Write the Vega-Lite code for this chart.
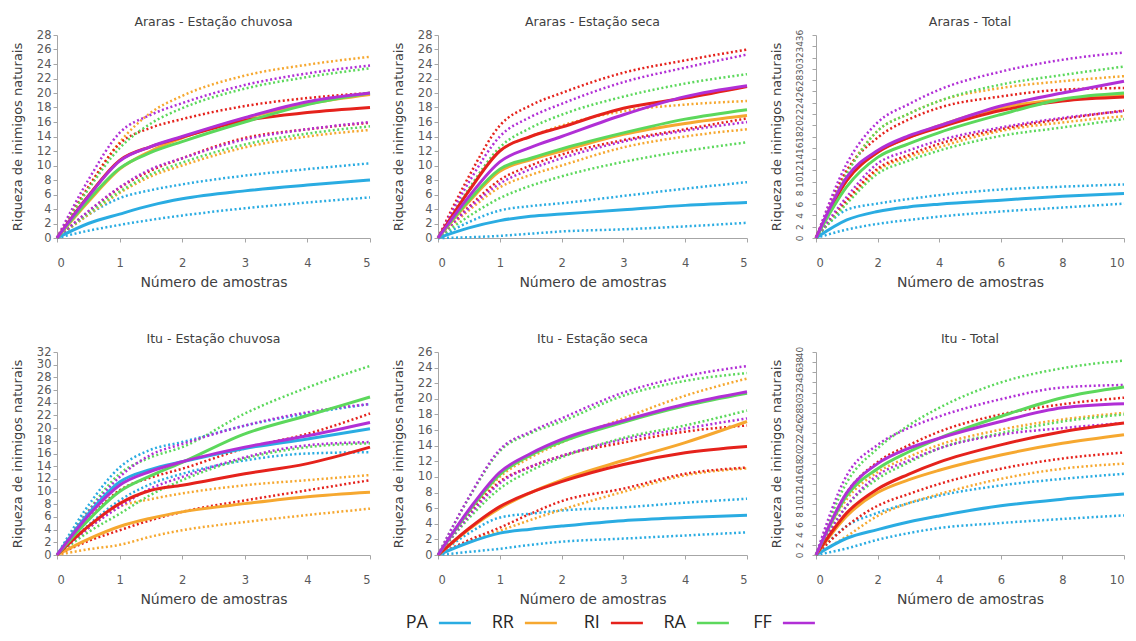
{
"$schema": "https://vega.github.io/schema/vega-lite/v6.json",
"padding": {"left": 11, "top": 15, "right": 0, "bottom": 0},
"background": "white",
"datasets": {
"leg": [{"g":"PA"},{"g":"RR"},{"g":"RI"},{"g":"RA"},{"g":"FF"}],
"a1": [
{"g":"PA","x":0,"m":0,"l":0,"h":0},{"g":"PA","x":0.5,"m":2.0,"l":1.0,"h":3.2},{"g":"PA","x":1,"m":3.3,"l":1.8,"h":5.5},{"g":"PA","x":1.5,"m":4.5,"l":2.5,"h":6.6},{"g":"PA","x":2,"m":5.4,"l":3.1,"h":7.4},{"g":"PA","x":3,"m":6.5,"l":4.1,"h":8.6},{"g":"PA","x":4,"m":7.3,"l":4.9,"h":9.5},{"g":"PA","x":5,"m":8.0,"l":5.6,"h":10.3},
{"g":"RR","x":0,"m":0,"l":0,"h":0},{"g":"RR","x":0.5,"m":5.0,"l":3.2,"h":7.0},{"g":"RR","x":1,"m":9.5,"l":6.2,"h":13.2},{"g":"RR","x":1.5,"m":12.0,"l":8.5,"h":17.3},{"g":"RR","x":2,"m":13.8,"l":10.0,"h":19.6},{"g":"RR","x":3,"m":16.5,"l":12.5,"h":22.4},{"g":"RR","x":4,"m":18.5,"l":14.0,"h":23.9},{"g":"RR","x":5,"m":19.8,"l":14.9,"h":25.0},
{"g":"RI","x":0,"m":0,"l":0,"h":0},{"g":"RI","x":0.5,"m":5.8,"l":3.6,"h":7.0},{"g":"RI","x":1,"m":10.7,"l":6.9,"h":13.0},{"g":"RI","x":1.5,"m":12.6,"l":9.3,"h":15.2},{"g":"RI","x":2,"m":13.9,"l":11.0,"h":16.4},{"g":"RI","x":3,"m":16.2,"l":13.8,"h":18.2},{"g":"RI","x":4,"m":17.3,"l":15.0,"h":19.3},{"g":"RI","x":5,"m":18.0,"l":15.9,"h":20.0},
{"g":"RA","x":0,"m":0,"l":0,"h":0},{"g":"RA","x":0.5,"m":5.2,"l":3.4,"h":6.7},{"g":"RA","x":1,"m":9.6,"l":6.4,"h":12.4},{"g":"RA","x":1.5,"m":11.8,"l":8.8,"h":15.8},{"g":"RA","x":2,"m":13.3,"l":10.4,"h":17.9},{"g":"RA","x":3,"m":16.0,"l":12.9,"h":20.6},{"g":"RA","x":4,"m":18.4,"l":14.4,"h":22.2},{"g":"RA","x":5,"m":20.0,"l":15.4,"h":23.4},
{"g":"FF","x":0,"m":0,"l":0,"h":0},{"g":"FF","x":0.5,"m":5.7,"l":3.7,"h":8.0},{"g":"FF","x":1,"m":10.6,"l":7.0,"h":14.5},{"g":"FF","x":1.5,"m":12.6,"l":9.5,"h":17.0},{"g":"FF","x":2,"m":14.0,"l":11.0,"h":18.6},{"g":"FF","x":3,"m":16.6,"l":13.6,"h":21.1},{"g":"FF","x":4,"m":18.8,"l":15.0,"h":22.7},{"g":"FF","x":5,"m":20.0,"l":16.0,"h":23.8}
],
"a2": [
{"g":"PA","x":0,"m":0,"l":0,"h":0},{"g":"PA","x":0.5,"m":1.4,"l":0.1,"h":2.2},{"g":"PA","x":1,"m":2.4,"l":0.3,"h":3.8},{"g":"PA","x":1.5,"m":3.0,"l":0.6,"h":4.4},{"g":"PA","x":2,"m":3.3,"l":0.9,"h":4.8},{"g":"PA","x":3,"m":3.9,"l":1.2,"h":5.8},{"g":"PA","x":4,"m":4.5,"l":1.6,"h":6.8},{"g":"PA","x":5,"m":4.9,"l":2.1,"h":7.7},
{"g":"RR","x":0,"m":0,"l":0,"h":0},{"g":"RR","x":0.5,"m":5.0,"l":3.8,"h":6.5},{"g":"RR","x":1,"m":9.2,"l":7.0,"h":12.0},{"g":"RR","x":1.5,"m":10.8,"l":8.7,"h":14.0},{"g":"RR","x":2,"m":12.0,"l":10.0,"h":15.5},{"g":"RR","x":3,"m":14.3,"l":12.5,"h":17.5},{"g":"RR","x":4,"m":15.8,"l":14.0,"h":18.4},{"g":"RR","x":5,"m":16.9,"l":15.0,"h":18.9},
{"g":"RI","x":0,"m":0,"l":0,"h":0},{"g":"RI","x":0.5,"m":6.5,"l":4.3,"h":8.5},{"g":"RI","x":1,"m":12.0,"l":8.0,"h":15.5},{"g":"RI","x":1.5,"m":14.0,"l":10.0,"h":18.3},{"g":"RI","x":2,"m":15.3,"l":11.5,"h":20.0},{"g":"RI","x":3,"m":17.9,"l":13.5,"h":22.8},{"g":"RI","x":4,"m":19.3,"l":15.0,"h":24.5},{"g":"RI","x":5,"m":20.9,"l":16.5,"h":26.0},
{"g":"RA","x":0,"m":0,"l":0,"h":0},{"g":"RA","x":0.5,"m":5.2,"l":3.0,"h":6.8},{"g":"RA","x":1,"m":9.5,"l":5.5,"h":12.5},{"g":"RA","x":1.5,"m":11.0,"l":7.2,"h":15.2},{"g":"RA","x":2,"m":12.3,"l":8.5,"h":17.0},{"g":"RA","x":3,"m":14.5,"l":10.5,"h":19.5},{"g":"RA","x":4,"m":16.4,"l":12.0,"h":21.3},{"g":"RA","x":5,"m":17.7,"l":13.2,"h":22.6},
{"g":"FF","x":0,"m":0,"l":0,"h":0},{"g":"FF","x":0.5,"m":5.7,"l":4.1,"h":7.7},{"g":"FF","x":1,"m":10.5,"l":7.5,"h":14.0},{"g":"FF","x":1.5,"m":12.5,"l":9.5,"h":16.7},{"g":"FF","x":2,"m":14.0,"l":11.0,"h":18.5},{"g":"FF","x":3,"m":17.0,"l":13.3,"h":21.5},{"g":"FF","x":4,"m":19.5,"l":14.8,"h":23.5},{"g":"FF","x":5,"m":21.0,"l":16.0,"h":25.3}
],
"a3": [
{"g":"PA","x":0,"m":0,"l":0,"h":0},{"g":"PA","x":1,"m":3.2,"l":1.5,"h":5.0},{"g":"PA","x":2,"m":4.7,"l":2.5,"h":6.1},{"g":"PA","x":3,"m":5.5,"l":3.2,"h":6.9},{"g":"PA","x":4,"m":6.0,"l":3.8,"h":7.6},{"g":"PA","x":6,"m":6.7,"l":4.7,"h":8.6},{"g":"PA","x":8,"m":7.4,"l":5.4,"h":9.1},{"g":"PA","x":10,"m":7.9,"l":6.1,"h":9.5},
{"g":"RR","x":0,"m":0,"l":0,"h":0},{"g":"RR","x":1,"m":10.2,"l":6.4,"h":11.7},{"g":"RR","x":2,"m":15.2,"l":12.0,"h":19.0},{"g":"RR","x":3,"m":17.8,"l":14.3,"h":22.0},{"g":"RR","x":4,"m":19.9,"l":16.1,"h":24.3},{"g":"RR","x":6,"m":23.1,"l":19.0,"h":26.6},{"g":"RR","x":8,"m":24.6,"l":20.5,"h":27.8},{"g":"RR","x":10,"m":25.4,"l":21.6,"h":28.7},
{"g":"RI","x":0,"m":0,"l":0,"h":0},{"g":"RI","x":1,"m":10.2,"l":6.7,"h":12.0},{"g":"RI","x":2,"m":15.2,"l":12.3,"h":17.8},{"g":"RI","x":3,"m":17.8,"l":14.7,"h":21.0},{"g":"RI","x":4,"m":19.6,"l":16.7,"h":23.1},{"g":"RI","x":6,"m":22.6,"l":19.3,"h":25.1},{"g":"RI","x":8,"m":24.3,"l":21.1,"h":26.3},{"g":"RI","x":10,"m":25.0,"l":22.6,"h":26.6},
{"g":"RA","x":0,"m":0,"l":0,"h":0},{"g":"RA","x":1,"m":9.1,"l":6.1,"h":11.4},{"g":"RA","x":2,"m":14.3,"l":11.4,"h":19.0},{"g":"RA","x":3,"m":16.7,"l":13.7,"h":22.0},{"g":"RA","x":4,"m":18.7,"l":15.5,"h":24.3},{"g":"RA","x":6,"m":21.9,"l":18.1,"h":27.2},{"g":"RA","x":8,"m":24.6,"l":19.6,"h":28.9},{"g":"RA","x":10,"m":25.7,"l":21.1,"h":30.4},
{"g":"FF","x":0,"m":0,"l":0,"h":0},{"g":"FF","x":1,"m":10.8,"l":7.3,"h":13.2},{"g":"FF","x":2,"m":15.5,"l":13.2,"h":20.5},{"g":"FF","x":3,"m":18.1,"l":15.5,"h":23.7},{"g":"FF","x":4,"m":19.9,"l":17.3,"h":26.3},{"g":"FF","x":6,"m":23.4,"l":19.6,"h":29.5},{"g":"FF","x":8,"m":25.7,"l":21.3,"h":31.6},{"g":"FF","x":10,"m":27.8,"l":22.5,"h":32.9}
],
"i1": [
{"g":"PA","x":0,"m":0,"l":0,"h":0},{"g":"PA","x":0.5,"m":6.5,"l":4.7,"h":7.8},{"g":"PA","x":1,"m":11.5,"l":8.6,"h":13.8},{"g":"PA","x":1.5,"m":13.5,"l":11.2,"h":16.6},{"g":"PA","x":2,"m":14.7,"l":12.8,"h":17.8},{"g":"PA","x":3,"m":16.8,"l":14.9,"h":20.4},{"g":"PA","x":4,"m":18.3,"l":16.0,"h":22.3},{"g":"PA","x":5,"m":19.9,"l":16.2,"h":23.8},
{"g":"RR","x":0,"m":0,"l":0,"h":0},{"g":"RR","x":0.5,"m":2.5,"l":0.9,"h":4.2},{"g":"RR","x":1,"m":4.5,"l":1.6,"h":7.6},{"g":"RR","x":1.5,"m":5.8,"l":2.9,"h":8.8},{"g":"RR","x":2,"m":6.8,"l":3.9,"h":9.7},{"g":"RR","x":3,"m":8.1,"l":5.2,"h":11.0},{"g":"RR","x":4,"m":9.2,"l":6.3,"h":11.8},{"g":"RR","x":5,"m":9.9,"l":7.3,"h":12.6},
{"g":"RI","x":0,"m":0,"l":0,"h":0},{"g":"RI","x":0.5,"m":4.5,"l":2.2,"h":5.6},{"g":"RI","x":1,"m":8.1,"l":3.9,"h":10.2},{"g":"RI","x":1.5,"m":10.2,"l":5.5,"h":12.2},{"g":"RI","x":2,"m":11.0,"l":6.8,"h":13.6},{"g":"RI","x":3,"m":12.8,"l":8.6,"h":16.8},{"g":"RI","x":4,"m":14.4,"l":10.2,"h":19.1},{"g":"RI","x":5,"m":17.0,"l":11.8,"h":22.3},
{"g":"RA","x":0,"m":0,"l":0,"h":0},{"g":"RA","x":0.5,"m":5.5,"l":3.6,"h":7.0},{"g":"RA","x":1,"m":10.0,"l":6.5,"h":12.8},{"g":"RA","x":1.5,"m":12.5,"l":9.5,"h":15.4},{"g":"RA","x":2,"m":14.6,"l":11.8,"h":17.0},{"g":"RA","x":3,"m":19.1,"l":15.2,"h":22.3},{"g":"RA","x":4,"m":22.0,"l":17.0,"h":26.4},{"g":"RA","x":5,"m":24.9,"l":17.6,"h":29.8},
{"g":"FF","x":0,"m":0,"l":0,"h":0},{"g":"FF","x":0.5,"m":6.2,"l":4.2,"h":6.8},{"g":"FF","x":1,"m":11.0,"l":7.6,"h":12.3},{"g":"FF","x":1.5,"m":13.2,"l":10.5,"h":15.8},{"g":"FF","x":2,"m":14.7,"l":12.3,"h":17.5},{"g":"FF","x":3,"m":17.0,"l":15.4,"h":20.4},{"g":"FF","x":4,"m":18.8,"l":17.3,"h":22.5},{"g":"FF","x":5,"m":20.9,"l":17.8,"h":23.8}
],
"i2": [
{"g":"PA","x":0,"m":0,"l":0,"h":0},{"g":"PA","x":0.5,"m":1.6,"l":0.4,"h":2.8},{"g":"PA","x":1,"m":2.8,"l":0.8,"h":4.8},{"g":"PA","x":1.5,"m":3.3,"l":1.3,"h":5.3},{"g":"PA","x":2,"m":3.7,"l":1.7,"h":5.7},{"g":"PA","x":3,"m":4.4,"l":2.1,"h":6.1},{"g":"PA","x":4,"m":4.8,"l":2.5,"h":6.7},{"g":"PA","x":5,"m":5.1,"l":2.9,"h":7.2},
{"g":"RR","x":0,"m":0,"l":0,"h":0},{"g":"RR","x":0.5,"m":3.3,"l":1.7,"h":5.5},{"g":"RR","x":1,"m":6.0,"l":3.1,"h":10.0},{"g":"RR","x":1.5,"m":8.0,"l":4.5,"h":12.5},{"g":"RR","x":2,"m":9.6,"l":5.8,"h":14.4},{"g":"RR","x":3,"m":12.1,"l":8.1,"h":17.5},{"g":"RR","x":4,"m":14.4,"l":10.2,"h":20.4},{"g":"RR","x":5,"m":17.1,"l":11.1,"h":22.6},
{"g":"RI","x":0,"m":0,"l":0,"h":0},{"g":"RI","x":0.5,"m":3.4,"l":1.9,"h":5.2},{"g":"RI","x":1,"m":6.2,"l":3.5,"h":9.4},{"g":"RI","x":1.5,"m":8.0,"l":5.3,"h":11.3},{"g":"RI","x":2,"m":9.4,"l":6.9,"h":12.7},{"g":"RI","x":3,"m":11.6,"l":8.5,"h":14.4},{"g":"RI","x":4,"m":13.1,"l":10.4,"h":15.8},{"g":"RI","x":5,"m":13.9,"l":11.2,"h":16.6},
{"g":"RA","x":0,"m":0,"l":0,"h":0},{"g":"RA","x":0.5,"m":5.6,"l":4.7,"h":7.3},{"g":"RA","x":1,"m":10.3,"l":8.5,"h":13.3},{"g":"RA","x":1.5,"m":12.8,"l":10.8,"h":15.6},{"g":"RA","x":2,"m":14.5,"l":12.5,"h":17.1},{"g":"RA","x":3,"m":17.0,"l":15.0,"h":20.4},{"g":"RA","x":4,"m":19.1,"l":16.6,"h":22.3},{"g":"RA","x":5,"m":20.7,"l":18.5,"h":23.3},
{"g":"FF","x":0,"m":0,"l":0,"h":0},{"g":"FF","x":0.5,"m":5.8,"l":5.0,"h":7.4},{"g":"FF","x":1,"m":10.6,"l":9.2,"h":13.5},{"g":"FF","x":1.5,"m":13.0,"l":11.3,"h":15.8},{"g":"FF","x":2,"m":14.8,"l":12.7,"h":17.5},{"g":"FF","x":3,"m":17.2,"l":14.8,"h":20.8},{"g":"FF","x":4,"m":19.3,"l":16.2,"h":22.9},{"g":"FF","x":5,"m":20.9,"l":17.5,"h":24.2}
],
"i3": [
{"g":"PA","x":0,"m":0,"l":0,"h":0},{"g":"PA","x":1,"m":3.3,"l":1.3,"h":5.7},{"g":"PA","x":2,"m":5.0,"l":3.0,"h":8.3},{"g":"PA","x":3,"m":6.5,"l":4.3,"h":10.2},{"g":"PA","x":4,"m":7.7,"l":5.3,"h":11.7},{"g":"PA","x":6,"m":9.7,"l":6.3,"h":13.7},{"g":"PA","x":8,"m":11.0,"l":7.1,"h":15.0},{"g":"PA","x":10,"m":12.0,"l":7.8,"h":16.0},
{"g":"RR","x":0,"m":0,"l":0,"h":0},{"g":"RR","x":1,"m":7.7,"l":3.7,"h":11.0},{"g":"RR","x":2,"m":12.3,"l":7.7,"h":16.3},{"g":"RR","x":3,"m":14.8,"l":10.2,"h":19.3},{"g":"RR","x":4,"m":16.7,"l":12.0,"h":21.7},{"g":"RR","x":6,"m":19.7,"l":15.0,"h":24.7},{"g":"RR","x":8,"m":22.0,"l":17.0,"h":26.7},{"g":"RR","x":10,"m":23.7,"l":18.0,"h":28.0},
{"g":"RI","x":0,"m":0,"l":0,"h":0},{"g":"RI","x":1,"m":8.3,"l":5.7,"h":12.3},{"g":"RI","x":2,"m":13.0,"l":9.7,"h":18.3},{"g":"RI","x":3,"m":15.9,"l":12.0,"h":21.6},{"g":"RI","x":4,"m":18.3,"l":14.0,"h":24.3},{"g":"RI","x":6,"m":21.7,"l":17.0,"h":27.7},{"g":"RI","x":8,"m":24.3,"l":19.0,"h":29.7},{"g":"RI","x":10,"m":26.0,"l":20.2,"h":31.0},
{"g":"RA","x":0,"m":0,"l":0,"h":0},{"g":"RA","x":1,"m":11.7,"l":9.7,"h":14.3},{"g":"RA","x":2,"m":17.0,"l":15.0,"h":21.0},{"g":"RA","x":3,"m":20.3,"l":18.2,"h":25.5},{"g":"RA","x":4,"m":23.0,"l":21.0,"h":29.0},{"g":"RA","x":6,"m":27.3,"l":24.0,"h":34.0},{"g":"RA","x":8,"m":31.0,"l":26.3,"h":36.8},{"g":"RA","x":10,"m":33.1,"l":27.7,"h":38.3},
{"g":"FF","x":0,"m":0,"l":0,"h":0},{"g":"FF","x":1,"m":12.3,"l":9.7,"h":15.7},{"g":"FF","x":2,"m":18.0,"l":15.7,"h":21.7},{"g":"FF","x":3,"m":21.0,"l":18.6,"h":25.0},{"g":"FF","x":4,"m":23.0,"l":21.0,"h":27.3},{"g":"FF","x":6,"m":26.3,"l":23.7,"h":30.7},{"g":"FF","x":8,"m":29.0,"l":25.0,"h":33.0},{"g":"FF","x":10,"m":29.8,"l":26.0,"h":33.5}
]
},
"vconcat": [
{
"vconcat": [
{
"hconcat": [
{
"data": {"name": "a1"}, "title": "Araras - Estação chuvosa", "width": 313, "height": 203,
"encoding": {
"x": {"field": "x", "type": "quantitative", "scale": {"domain": [0, 5], "nice": false}, "axis": {"values": [0,1,2,3,4,5], "title": "Número de amostras"}},
"color": {"field": "g", "type": "nominal", "scale": {"domain": ["PA","RR","RI","RA","FF"], "range": ["#2aace2","#f6a830","#e5221c","#5cd85c","#b12fd6"]}, "legend": null}
},
"layer": [
{"transform": [{"fold": ["l","h"], "as": ["s","y"]}], "mark": {"type": "line", "interpolate": "monotone", "strokeWidth": 2.5, "strokeDash": [2, 2.5]},
"encoding": {"y": {"field": "y", "type": "quantitative", "scale": {"domain": [0, 28], "nice": false}, "axis": {"values": [0,2,4,6,8,10,12,14,16,18,20,22,24,26,28], "title": "Riqueza de inimigos naturais"}}, "detail": {"field": "s"}}},
{"mark": {"type": "line", "interpolate": "monotone", "strokeWidth": 3},
"encoding": {"y": {"field": "m", "type": "quantitative", "scale": {"domain": [0, 28], "nice": false}, "axis": {"values": [0,2,4,6,8,10,12,14,16,18,20,22,24,26,28], "title": "Riqueza de inimigos naturais"}}}}
]
},
{
"data": {"name": "a2"}, "title": "Araras - Estação seca", "width": 309, "height": 203,
"encoding": {
"x": {"field": "x", "type": "quantitative", "scale": {"domain": [0, 5], "nice": false}, "axis": {"values": [0,1,2,3,4,5], "title": "Número de amostras"}},
"color": {"field": "g", "type": "nominal", "scale": {"domain": ["PA","RR","RI","RA","FF"], "range": ["#2aace2","#f6a830","#e5221c","#5cd85c","#b12fd6"]}, "legend": null}
},
"layer": [
{"transform": [{"fold": ["l","h"], "as": ["s","y"]}], "mark": {"type": "line", "interpolate": "monotone", "strokeWidth": 2.5, "strokeDash": [2, 2.5]},
"encoding": {"y": {"field": "y", "type": "quantitative", "scale": {"domain": [0, 28], "nice": false}, "axis": {"values": [0,2,4,6,8,10,12,14,16,18,20,22,24,26,28], "title": "Riqueza de inimigos naturais"}}, "detail": {"field": "s"}}},
{"mark": {"type": "line", "interpolate": "monotone", "strokeWidth": 3},
"encoding": {"y": {"field": "m", "type": "quantitative", "scale": {"domain": [0, 28], "nice": false}, "axis": {"values": [0,2,4,6,8,10,12,14,16,18,20,22,24,26,28], "title": "Riqueza de inimigos naturais"}}}}
]
},
{
"data": {"name": "a3"}, "title": "Araras - Total", "width": 308, "height": 203,
"encoding": {
"x": {"field": "x", "type": "quantitative", "scale": {"domain": [0, 10], "nice": false}, "axis": {"values": [0,2,4,6,8,10], "title": "Número de amostras"}},
"color": {"field": "g", "type": "nominal", "scale": {"domain": ["PA","RR","RI","RA","FF"], "range": ["#2aace2","#f6a830","#e5221c","#5cd85c","#b12fd6"]}, "legend": null}
},
"layer": [
{"transform": [{"fold": ["l","h"], "as": ["s","y"]}], "mark": {"type": "line", "interpolate": "monotone", "strokeWidth": 2.5, "strokeDash": [2, 2.5]},
"encoding": {"y": {"field": "y", "type": "quantitative", "scale": {"domain": [0, 36], "nice": false}, "axis": {"values": [0,2,4,6,8,10,12,14,16,18,20,22,24,26,28,30,32,34,36], "labelAngle": -90, "labelFontSize": 9, "labelPadding": 8, "labelOverlap": false, "title": "Riqueza de inimigos naturais"}}, "detail": {"field": "s"}}},
{"mark": {"type": "line", "interpolate": "monotone", "strokeWidth": 3},
"encoding": {"y": {"field": "m", "type": "quantitative", "scale": {"domain": [0, 36], "nice": false}, "axis": {"values": [0,2,4,6,8,10,12,14,16,18,20,22,24,26,28,30,32,34,36], "labelAngle": -90, "labelFontSize": 9, "labelPadding": 8, "labelOverlap": false, "title": "Riqueza de inimigos naturais"}}}}
]
}
]
},
{
"hconcat": [
{
"data": {"name": "i1"}, "title": "Itu - Estação chuvosa", "width": 313, "height": 203,
"encoding": {
"x": {"field": "x", "type": "quantitative", "scale": {"domain": [0, 5], "nice": false}, "axis": {"values": [0,1,2,3,4,5], "title": "Número de amostras"}},
"color": {"field": "g", "type": "nominal", "scale": {"domain": ["PA","RR","RI","RA","FF"], "range": ["#2aace2","#f6a830","#e5221c","#5cd85c","#b12fd6"]}, "legend": null}
},
"layer": [
{"transform": [{"fold": ["l","h"], "as": ["s","y"]}], "mark": {"type": "line", "interpolate": "monotone", "strokeWidth": 2.5, "strokeDash": [2, 2.5]},
"encoding": {"y": {"field": "y", "type": "quantitative", "scale": {"domain": [0, 32], "nice": false}, "axis": {"values": [0,2,4,6,8,10,12,14,16,18,20,22,24,26,28,30,32], "labelOverlap": false, "title": "Riqueza de inimigos naturais"}}, "detail": {"field": "s"}}},
{"mark": {"type": "line", "interpolate": "monotone", "strokeWidth": 3},
"encoding": {"y": {"field": "m", "type": "quantitative", "scale": {"domain": [0, 32], "nice": false}, "axis": {"values": [0,2,4,6,8,10,12,14,16,18,20,22,24,26,28,30,32], "labelOverlap": false, "title": "Riqueza de inimigos naturais"}}}}
]
},
{
"data": {"name": "i2"}, "title": "Itu - Estação seca", "width": 309, "height": 203,
"encoding": {
"x": {"field": "x", "type": "quantitative", "scale": {"domain": [0, 5], "nice": false}, "axis": {"values": [0,1,2,3,4,5], "title": "Número de amostras"}},
"color": {"field": "g", "type": "nominal", "scale": {"domain": ["PA","RR","RI","RA","FF"], "range": ["#2aace2","#f6a830","#e5221c","#5cd85c","#b12fd6"]}, "legend": null}
},
"layer": [
{"transform": [{"fold": ["l","h"], "as": ["s","y"]}], "mark": {"type": "line", "interpolate": "monotone", "strokeWidth": 2.5, "strokeDash": [2, 2.5]},
"encoding": {"y": {"field": "y", "type": "quantitative", "scale": {"domain": [0, 26], "nice": false}, "axis": {"values": [0,2,4,6,8,10,12,14,16,18,20,22,24,26], "title": "Riqueza de inimigos naturais"}}, "detail": {"field": "s"}}},
{"mark": {"type": "line", "interpolate": "monotone", "strokeWidth": 3},
"encoding": {"y": {"field": "m", "type": "quantitative", "scale": {"domain": [0, 26], "nice": false}, "axis": {"values": [0,2,4,6,8,10,12,14,16,18,20,22,24,26], "title": "Riqueza de inimigos naturais"}}}}
]
},
{
"data": {"name": "i3"}, "title": "Itu - Total", "width": 308, "height": 203,
"encoding": {
"x": {"field": "x", "type": "quantitative", "scale": {"domain": [0, 10], "nice": false}, "axis": {"values": [0,2,4,6,8,10], "title": "Número de amostras"}},
"color": {"field": "g", "type": "nominal", "scale": {"domain": ["PA","RR","RI","RA","FF"], "range": ["#2aace2","#f6a830","#e5221c","#5cd85c","#b12fd6"]}, "legend": null}
},
"layer": [
{"transform": [{"fold": ["l","h"], "as": ["s","y"]}], "mark": {"type": "line", "interpolate": "monotone", "strokeWidth": 2.5, "strokeDash": [2, 2.5]},
"encoding": {"y": {"field": "y", "type": "quantitative", "scale": {"domain": [0, 40], "nice": false}, "axis": {"values": [0,2,4,6,8,10,12,14,16,18,20,22,24,26,28,30,32,34,36,38,40], "labelAngle": -90, "labelFontSize": 9, "labelPadding": 8, "labelOverlap": false, "title": "Riqueza de inimigos naturais"}}, "detail": {"field": "s"}}},
{"mark": {"type": "line", "interpolate": "monotone", "strokeWidth": 3},
"encoding": {"y": {"field": "m", "type": "quantitative", "scale": {"domain": [0, 40], "nice": false}, "axis": {"values": [0,2,4,6,8,10,12,14,16,18,20,22,24,26,28,30,32,34,36,38,40], "labelAngle": -90, "labelFontSize": 9, "labelPadding": 8, "labelOverlap": false, "title": "Riqueza de inimigos naturais"}}}}
]
}
]
}
],
"spacing": 42
},
{
"data": {"name": "leg"}, "width": 430, "height": 18,
"encoding": {"x": {"field": "g", "type": "nominal", "sort": null, "axis": null, "scale": {"paddingInner": 0, "paddingOuter": 0.2564, "align": 0.8}}},
"layer": [
{"mark": {"type": "text", "align": "right", "dx": -8, "fontSize": 18, "color": "#262626", "font": "Open Sans"}, "encoding": {"text": {"field": "g"}}},
{"mark": {"type": "point", "shape": "M-1,0L1,0", "size": 1024, "filled": false, "strokeWidth": 2.5, "xOffset": 19, "opacity": 1},
"encoding": {"color": {"field": "g", "type": "nominal", "scale": {"domain": ["PA","RR","RI","RA","FF"], "range": ["#2aace2","#f6a830","#e5221c","#5cd85c","#b12fd6"]}, "legend": null}}}
]
}
],
"spacing": 7,
"center": true,
"config": {
"view": {"stroke": null},
"font": "DejaVu Sans",
"concat": {"spacing": 16},
"axis": {"grid": false, "domainColor": "#a6a6a6", "tickColor": "#a6a6a6", "tickSize": 4, "labelColor": "#595959", "labelFontSize": 11.5, "titleColor": "#404040", "titleFontSize": 13, "titleFontWeight": "normal", "labelFont": "DejaVu Sans", "titleFont": "DejaVu Sans"},
"axisX": {"labelPadding": 15, "titlePadding": 7, "titleFontSize": 14},
"axisY": {"titlePadding": 12},
"title": {"fontSize": 12.5, "fontWeight": "normal", "color": "#404040", "offset": 1, "font": "DejaVu Sans"}
}
}
